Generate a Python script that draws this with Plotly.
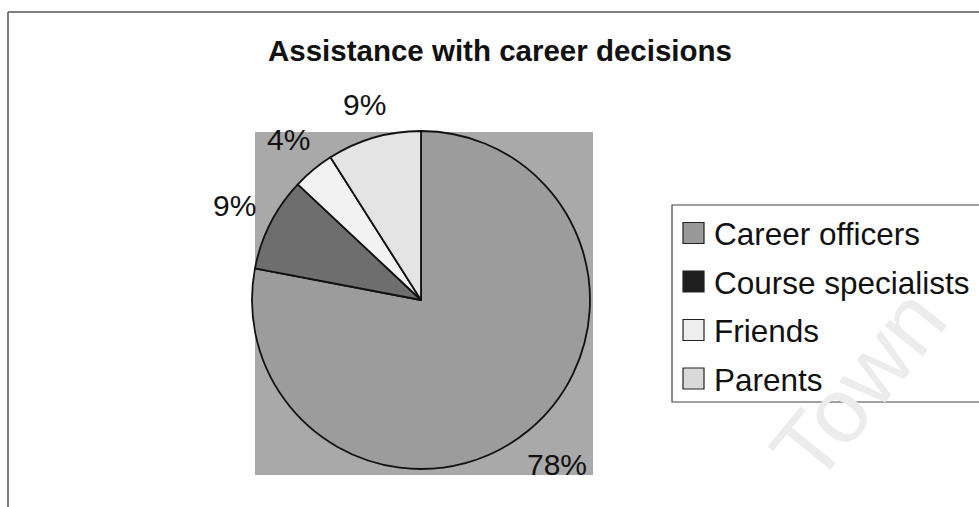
import math
import plotly.graph_objects as go

# ---- data ----
categories = ["Career officers", "Course specialists", "Friends", "Parents"]
values = [78, 9, 4, 9]
slice_colors = ["#9c9c9c", "#6e6e6e", "#f2f2f2", "#e4e4e4"]
legend_colors = ["#999999", "#1e1e1e", "#eeeeee", "#d9d9d9"]
title_text = "Assistance with career decisions"

W, H = 979, 507
FONT = "Liberation Sans, Arial, sans-serif"


def px(x):
    return x / W


def py(y):
    return 1 - y / H


# pie domain in pixels
DX0, DX1, DY0, DY1 = 252, 590, 131, 469

fig = go.Figure()
fig.add_trace(go.Pie(
    labels=categories,
    values=values,
    sort=False,
    direction="clockwise",
    rotation=0,
    textinfo="none",
    marker=dict(colors=slice_colors, line=dict(color="#111111", width=1.8)),
    domain=dict(x=[px(DX0), px(DX1)], y=[py(DY1), py(DY0)]),
    showlegend=False,
    hoverinfo="label+percent",
))

shapes = [
    dict(type="rect", xref="paper", yref="paper", layer="below",
         x0=px(255), x1=px(593), y0=py(475), y1=py(132),
         fillcolor="#a9a9a9", line=dict(width=0)),
    dict(type="line", xref="paper", yref="paper", x0=px(8), x1=px(979),
         y0=py(12), y1=py(12), line=dict(color="#555555", width=1.5)),
    dict(type="line", xref="paper", yref="paper", x0=px(8), x1=px(8),
         y0=py(12), y1=py(507), line=dict(color="#555555", width=1.5)),
    dict(type="rect", xref="paper", yref="paper", layer="below",
         x0=px(672), x1=px(990), y0=py(402), y1=py(205),
         fillcolor="white", line=dict(color="#444444", width=1.2)),
]

annotations = [
    dict(text="Town", xref="paper", yref="paper", x=px(858), y=py(385),
         xanchor="center", yanchor="middle",
         showarrow=False, textangle=-51,
         font=dict(family=FONT, size=92, color="#ececec")),
]

# percentage labels placed outside each slice at its mid-angle
cx, cy = (DX0 + DX1) / 2, (DY0 + DY1) / 2
r = min(DX1 - DX0, DY1 - DY0) / 2
total = sum(values)
cum = 0
LABEL_SIZE = 30
for v in values:
    mid = 2 * math.pi * (cum + v / 2) / total
    cum += v
    txt = f"{round(100 * v / total)}%"
    tw = 0.556 * LABEL_SIZE * (len(txt) - 1) + 0.889 * LABEL_SIZE
    th = LABEL_SIZE
    sx, sy = math.sin(mid), math.cos(mid)
    ext = tw / 2 * abs(sx) + th / 2 * abs(sy)
    rl = r + 14 + ext
    lx = cx + rl * sx
    ly = cy - rl * sy
    annotations.append(dict(text=txt, xref="paper", yref="paper",
                            x=px(lx), y=py(ly), xanchor="center", yanchor="middle",
                            showarrow=False,
                            font=dict(family=FONT, size=LABEL_SIZE, color="#111111")))

for i, (name, col) in enumerate(zip(categories, legend_colors)):
    yc = 233 + 48.5 * i
    shapes.append(dict(type="rect", xref="paper", yref="paper",
                       x0=px(683), x1=px(704), y0=py(yc + 10.5), y1=py(yc - 10.5),
                       fillcolor=col, line=dict(color="#222222", width=1.2)))
    annotations.append(dict(text=name, xref="paper", yref="paper",
                            x=px(712), y=py(yc + 1), xanchor="left", yanchor="middle",
                            showarrow=False,
                            font=dict(family=FONT, size=31.5, color="#111111")))

fig.update_layout(
    width=W, height=H,
    margin=dict(l=0, r=0, t=0, b=0),
    paper_bgcolor="white",
    title=dict(text="<b>" + title_text + "</b>", x=px(500), y=py(51),
               xanchor="center", yanchor="middle",
               font=dict(family=FONT, size=29.5, color="#111111")),
    shapes=shapes,
    annotations=annotations,
)

fig.write_html("out.html")
